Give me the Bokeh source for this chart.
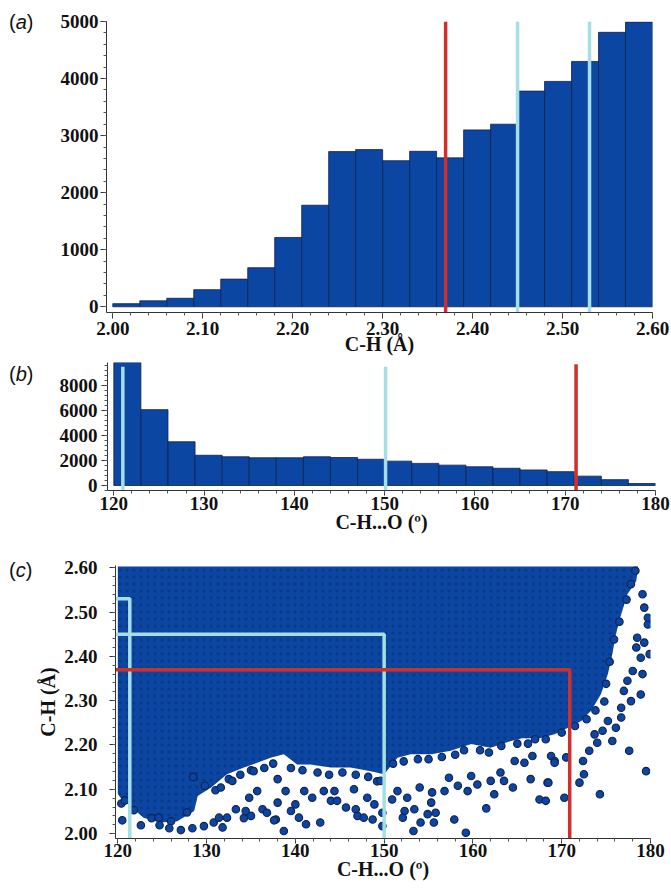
from bokeh.plotting import figure
from bokeh.layouts import column, row
from bokeh.models import Range1d, SingleIntervalTicker, NumeralTickFormatter, Div
from bokeh.embed import file_html
from bokeh.resources import INLINE

# ---------------- data ----------------
# (a) C-H distance histogram (bin width 0.03 A)
ch_bin_left = [2.00, 2.03, 2.06, 2.09, 2.12, 2.15, 2.18, 2.21, 2.24, 2.27,
               2.30, 2.33, 2.36, 2.39, 2.42, 2.45, 2.48, 2.51, 2.54, 2.57]
ch_counts = [55, 105, 150, 300, 485, 685, 1215, 1780, 2720, 2755,
             2560, 2725, 2610, 3100, 3200, 3780, 3950, 4300, 4810, 4990]
ch_bin_width = 0.03
ch_red = [2.37]
ch_cyan = [2.45, 2.53]

# (b) C-H...O angle histogram (bin width 3 deg)
ang_bin_left = [120, 123, 126, 129, 132, 135, 138, 141, 144, 147,
                150, 153, 156, 159, 162, 165, 168, 171, 174, 177]
ang_counts = [9840, 6070, 3500, 2420, 2300, 2220, 2220, 2300, 2240, 2100,
              1950, 1770, 1630, 1500, 1380, 1245, 1110, 750, 470, 160]
ang_bin_width = 3
ang_red = [171.2]
ang_cyan = [121.0, 150.1]

# (c) scatter: densely filled region outline (angle, distance)
dense_angle = [120.0, 178.6, 178.4, 177.4, 176.7, 176.1, 175.7, 175.2, 174.4, 173.3,
               172.2, 170.7, 169.2, 167.5, 165.5, 164.3, 162.0, 159.8, 157.5, 155.3,
               153.0, 151.5, 150.0, 148.5, 146.2, 144.0, 141.7, 140.2, 138.7, 137.2,
               135.7, 134.2, 132.3, 130.5, 129.0, 128.6, 126.7, 124.8, 122.9, 121.5,
               120.3, 120.0]
dense_dist = [2.603, 2.603, 2.570, 2.540, 2.495, 2.450, 2.405, 2.360, 2.314, 2.277,
              2.254, 2.239, 2.224, 2.215, 2.215, 2.209, 2.194, 2.202, 2.187, 2.179,
              2.179, 2.171, 2.134, 2.141, 2.149, 2.149, 2.156, 2.156, 2.179, 2.171,
              2.160, 2.149, 2.134, 2.104, 2.085, 2.051, 2.028, 2.025, 2.036, 2.060,
              2.081, 2.090]
# (c) scatter: points on the ragged lower / right edge of the dense region
edge_angle = [128.5, 129.8, 131.0, 132.5, 133.8, 135.0, 136.5, 137.5, 139.5, 140.8,
              142.5, 143.8, 145.3, 146.8, 148.2, 149.2, 151.0, 152.2, 153.8, 155.0,
              156.5, 158.0, 159.0, 160.8, 161.8, 163.2, 165.0, 166.2, 167.0, 168.2,
              170.0, 171.5, 172.8, 173.8, 174.8, 175.0, 175.4, 175.9, 176.5, 177.3,
              177.8, 178.3, 126.0, 123.8, 121.8, 120.4, 127.8]
edge_dist = [2.128, 2.108, 2.098, 2.123, 2.133, 2.143, 2.148, 2.158, 2.148, 2.143,
             2.138, 2.133, 2.138, 2.133, 2.128, 2.118, 2.158, 2.163, 2.168, 2.168,
             2.173, 2.178, 2.188, 2.188, 2.183, 2.198, 2.203, 2.203, 2.213, 2.213,
             2.228, 2.243, 2.258, 2.278, 2.298, 2.338, 2.388, 2.438, 2.478, 2.528,
             2.563, 2.593, 2.028, 2.035, 2.053, 2.068, 2.048]
# (c) scatter: individual sparse points below / right of the dense region
sp_angle = [120.5, 120.8, 122.6, 124.6, 124.7, 125.8, 127.1, 128.4, 129.7, 130.8,
            131.8, 131.4, 132.3, 133.3, 134.2, 135.0, 134.8, 135.7, 136.3, 136.8,
            137.8, 138.0, 138.7, 138.9, 139.5, 140.0, 140.4, 141.2, 141.0, 141.9,
            142.8, 143.2, 144.0, 138.0, 135.3, 131.6, 132.9, 134.4, 137.6,
            144.4, 144.7, 145.7, 146.6, 146.8, 147.0, 147.7, 148.1, 148.7, 148.9,
            149.6, 149.8, 149.8, 150.9, 151.5, 152.3, 152.1, 152.6, 153.4, 153.3,
            154.0, 154.1, 154.9, 155.3, 155.4, 155.8, 155.6, 156.8, 157.3, 157.9,
            158.3, 159.2, 159.4, 159.8, 160.5, 161.5, 162.0, 162.4, 163.1, 163.5,
            164.5, 164.7, 165.8, 166.5, 166.7, 167.5, 168.4, 168.8, 169.2,
            168.2, 168.5, 169.2, 170.3, 170.5, 172.0, 172.4, 172.5, 173.1, 174.0,
            174.3, 175.7, 176.7, 176.7, 177.6, 177.8, 178.9, 179.1, 178.9, 179.3,
            179.7, 179.5, 179.9, 179.7, 179.1, 179.3, 177.4, 178.0, 177.0, 178.5,
            178.4, 176.1, 175.2, 174.6, 173.7]
sp_dist = [2.030, 2.075, 2.019, 2.036, 2.019, 2.012, 2.008, 2.012, 2.017, 2.025,
           2.014, 2.036, 2.036, 2.055, 2.035, 2.040, 2.081, 2.096, 2.055, 2.047,
           2.032, 2.070, 2.006, 2.096, 2.051, 2.066, 2.036, 2.021, 2.096, 2.081,
           2.025, 2.096, 2.074, 2.123, 2.141, 2.104, 2.119, 2.051, 2.030,
           2.096, 2.074, 2.059, 2.100, 2.055, 2.040, 2.036, 2.081, 2.032, 2.066,
           2.119, 2.017, 2.047, 2.077, 2.096, 2.051, 2.036, 2.081, 2.055, 2.006,
           2.104, 2.025, 2.044, 2.070, 2.093, 2.047, 2.025, 2.096, 2.126, 2.032,
           2.108, 2.002, 2.096, 2.130, 2.111, 2.057, 2.119, 2.089, 2.138, 2.119,
           2.104, 2.164, 2.160, 2.123, 2.175, 2.077, 2.115, 2.175, 2.164,
           2.074, 2.115, 2.160, 2.081, 2.172, 2.115, 2.164, 2.134, 2.187, 2.205,
           2.089, 2.209, 2.262, 2.284, 2.187, 2.299, 2.314, 2.360, 2.397, 2.431,
           2.472, 2.141, 2.405, 2.487, 2.540, 2.510, 2.345, 2.367, 2.322, 2.442,
           2.420, 2.239, 2.254, 2.232, 2.224]
# reference guide lines in (c)
c_cyan1_x = [119.7, 121.35, 121.35]
c_cyan1_y = [2.53, 2.53, 1.985]
c_cyan2_x = [119.7, 150.0, 150.0]
c_cyan2_y = [2.45, 2.45, 1.985]
c_red_x = [119.7, 170.9, 170.9]
c_red_y = [2.37, 2.37, 1.985]

# ---------------- styles ----------------
BLUE = "#0a46a2"
EDGE = "#13214f"
RED = "#d0302b"
CYAN = "#a6dfe3"
SERIF = "Liberation Serif"
LETTER_W = 32
FIG_W = 671 - LETTER_W


def style_axes(p, xint, yint, xfmt, yfmt, x_standoff, y_standoff):
    p.xaxis.ticker = SingleIntervalTicker(interval=xint, num_minor_ticks=5)
    p.yaxis.ticker = SingleIntervalTicker(interval=yint, num_minor_ticks=5)
    if xfmt:
        p.xaxis.formatter = NumeralTickFormatter(format=xfmt)
    if yfmt:
        p.yaxis.formatter = NumeralTickFormatter(format=yfmt)
    for ax in (p.xaxis[0], p.yaxis[0]):
        ax.axis_line_color = "#333333"
        ax.axis_line_width = 1
        ax.major_tick_line_color = "#333333"
        ax.minor_tick_line_color = "#555555"
        ax.major_tick_in = 0
        ax.major_tick_out = 6
        ax.minor_tick_in = 0
        ax.minor_tick_out = 3
        ax.major_label_text_font = SERIF
        ax.major_label_text_font_style = "bold"
        ax.major_label_text_font_size = "19px"
        ax.major_label_text_color = "#111111"
        ax.axis_label_text_font = SERIF
        ax.axis_label_text_font_style = "bold"
        ax.axis_label_text_font_size = "20px"
        ax.axis_label_text_color = "#111111"
    p.xaxis.major_label_standoff = x_standoff
    p.yaxis.major_label_standoff = y_standoff
    p.xgrid.grid_line_color = None
    p.ygrid.grid_line_color = None
    p.outline_line_color = None
    p.background_fill_color = "white"


def letter_div(letter, pad_top, height):
    html = ('<div style="font-family:\'Liberation Sans\',Arial,sans-serif;font-size:20px;'
            'color:#111;padding:%dpx 0 0 9px;white-space:nowrap;line-height:22px">'
            '(<i>%s</i>)</div>' % (pad_top, letter))
    return Div(text=html, width=LETTER_W, height=height, margin=(0, 0, 0, 0))


# ---------------- (a) ----------------
pa = figure(width=FIG_W, height=360, output_backend="svg", toolbar_location=None,
            x_range=Range1d(1.993, 2.60), y_range=Range1d(-100, 5000),
            min_border_left=106 - LETTER_W, min_border_right=19, min_border_top=21,
            min_border_bottom=48)
pa.quad(left=ch_bin_left, right=[v + ch_bin_width for v in ch_bin_left],
        bottom=0, top=ch_counts, fill_color=BLUE, line_color=EDGE, line_width=0.8)
pa.segment(x0=ch_red, y0=-100, x1=ch_red, y1=5000, line_color=RED, line_width=3.5)
pa.segment(x0=ch_cyan, y0=-100, x1=ch_cyan, y1=5000, line_color=CYAN, line_width=3.5)
style_axes(pa, 0.1, 1000, "0.00", None, 3, 2)
pa.xaxis.axis_label = "C-H (Å)"
pa.xaxis.axis_label_standoff = -5

# ---------------- (b) ----------------
pb = figure(width=FIG_W, height=178, output_backend="svg", toolbar_location=None,
            x_range=Range1d(119.3, 180), y_range=Range1d(-400, 9840),
            min_border_left=107 - LETTER_W, min_border_right=16, min_border_top=2,
            min_border_bottom=48)
pb.quad(left=ang_bin_left, right=[v + ang_bin_width for v in ang_bin_left],
        bottom=0, top=ang_counts, fill_color=BLUE, line_color=EDGE, line_width=0.8)
pb.segment(x0=ang_red, y0=-400, x1=ang_red, y1=9700, line_color=RED, line_width=3.5)
pb.segment(x0=ang_cyan, y0=-400, x1=ang_cyan, y1=9500, line_color=CYAN, line_width=3.5)
style_axes(pb, 10, 2000, "0", None, 1, 4)
pb.xaxis.major_tick_out = 5
pb.xaxis.axis_label = "C-H...O (º)"
pb.xaxis.axis_label_standoff = -2

# ---------------- (c) ----------------
pc = figure(width=FIG_W, height=350, output_backend="svg", toolbar_location=None,
            x_range=Range1d(119.74, 180), y_range=Range1d(1.989, 2.605),
            min_border_left=115 - LETTER_W, min_border_right=21, min_border_top=27,
            min_border_bottom=50)
pc.patch(dense_angle, dense_dist, fill_color=BLUE, line_color=None,
         hatch_pattern="dot", hatch_color="#061845", hatch_alpha=0.25,
         hatch_scale=7, hatch_weight=1.6)
pc.scatter(edge_angle, edge_dist, marker="circle", size=7.5, fill_color=BLUE,
           line_color=EDGE, line_width=1.1)
pc.scatter(sp_angle, sp_dist, marker="circle", size=7.5, fill_color=BLUE,
           line_color=EDGE, line_width=1.1)
pc.line(c_cyan1_x, c_cyan1_y, line_color=CYAN, line_width=3.5)
pc.line(c_cyan2_x, c_cyan2_y, line_color=CYAN, line_width=3.5)
pc.line(c_red_x, c_red_y, line_color=RED, line_width=3.5)
style_axes(pc, 10, 0.1, "0", "0.00", 0, 12)
pc.xaxis.major_tick_out = 5
pc.yaxis.axis_label = "C-H (Å)"
pc.yaxis.axis_label_standoff = 2
pc.xaxis.axis_label = "C-H...O (º)"
pc.xaxis.axis_label_standoff = -2

layout = column(
    row(letter_div("a", 11, 360), pa, spacing=0),
    row(letter_div("b", 3, 178), pb, spacing=0),
    row(letter_div("c", 21, 350), pc, spacing=0),
    spacing=0,
)
open("out.html", "w").write(file_html(layout, INLINE))
